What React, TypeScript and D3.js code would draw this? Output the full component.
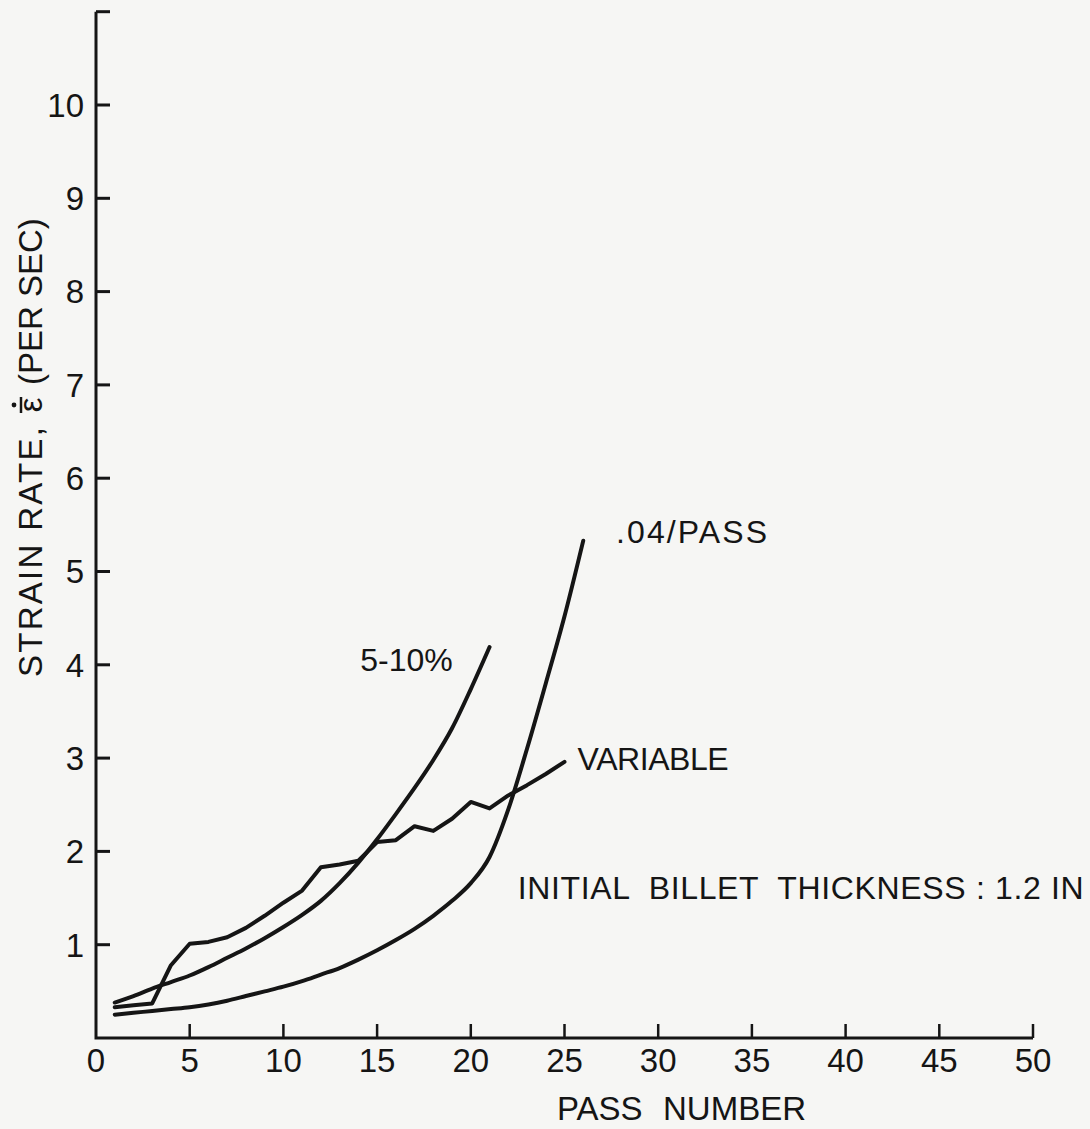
import * as d3 from "d3";

// x: pass number, y: strain rate (per sec)
const X_TICKS = [5, 10, 15, 20, 25, 30, 35, 40, 45, 50];
const Y_TICKS = [1, 2, 3, 4, 5, 6, 7, 8, 9, 10, 11];
const Y_LABELED = [1, 2, 3, 4, 5, 6, 7, 8, 9, 10];

// .04/PASS
const PASS_A = [1, 2, 3, 4, 5, 6, 7, 8, 9, 10, 11, 12, 13, 14, 15, 16, 17, 18, 19, 20, 21, 22, 23, 24, 25, 26];
const RATE_A = [0.25, 0.27, 0.29, 0.31, 0.33, 0.36, 0.4, 0.45, 0.5, 0.55, 0.61, 0.68, 0.75, 0.84, 0.94, 1.05, 1.17, 1.31, 1.47, 1.66, 1.94, 2.45, 3.1, 3.8, 4.52, 5.33];

// 5-10%
const PASS_B = [1, 2, 3, 4, 5, 6, 7, 8, 9, 10, 11, 12, 13, 14, 15, 16, 17, 18, 19, 20, 21];
const RATE_B = [0.38, 0.45, 0.53, 0.6, 0.67, 0.76, 0.86, 0.96, 1.07, 1.19, 1.32, 1.47, 1.66, 1.88, 2.13, 2.4, 2.68, 2.98, 3.32, 3.74, 4.19];

// VARIABLE
const PASS_C = [1, 2, 3, 4, 5, 6, 7, 8, 9, 10, 11, 12, 13, 14, 15, 16, 17, 18, 19, 20, 21, 22, 23, 24, 25];
const RATE_C = [0.33, 0.35, 0.37, 0.78, 1.01, 1.03, 1.08, 1.18, 1.31, 1.45, 1.58, 1.83, 1.86, 1.9, 2.1, 2.12, 2.27, 2.22, 2.35, 2.53, 2.46, 2.6, 2.71, 2.83, 2.96];

const W = 1090;
const H = 1129;
const INK = "#151515";
const FONT = "'Liberation Sans', Arial, sans-serif";

export default function App() {
  const x = d3.scaleLinear().domain([0, 50]).range([96, 1033]);
  const y = d3.scaleLinear().domain([0, 10]).range([1038, 105]);

  const smooth = d3
    .line<[number, number]>()
    .x((d) => x(d[0]))
    .y((d) => y(d[1]))
    .curve(d3.curveMonotoneX);
  const jagged = d3
    .line<[number, number]>()
    .x((d) => x(d[0]))
    .y((d) => y(d[1]));

  const a = PASS_A.map((p, i) => [p, RATE_A[i]] as [number, number]);
  const b = PASS_B.map((p, i) => [p, RATE_B[i]] as [number, number]);
  const c = PASS_C.map((p, i) => [p, RATE_C[i]] as [number, number]);

  const x0 = x(0);
  const y0 = y(0);
  const yTop = y(d3.max(Y_TICKS) as number);
  const tick = 14;

  // y title, drawn along the axis (rotated frame, origin at its start)
  const epsAt = 272;

  return (
    <svg
      width={W}
      height={H}
      style={{ position: "absolute", left: 0, top: 0, background: "#f6f6f4" }}
      fontFamily={FONT}
      fill={INK}
    >
      {/* axes */}
      <path
        d={`M${x0},${yTop}V${y0}H${x(50)}`}
        fill="none"
        stroke={INK}
        strokeWidth={3}
      />
      {Y_TICKS.map((t) => (
        <line key={"yt" + t} x1={x0} x2={x0 + tick} y1={y(t)} y2={y(t)} stroke={INK} strokeWidth={3} />
      ))}
      {X_TICKS.map((t) => (
        <line key={"xt" + t} x1={x(t)} x2={x(t)} y1={y0} y2={y0 - tick} stroke={INK} strokeWidth={2.5} />
      ))}

      {/* tick labels */}
      {Y_LABELED.map((t) => (
        <text key={"yl" + t} x={x0 - 12} y={y(t)} dy="0.36em" textAnchor="end" fontSize={33}>
          {t}
        </text>
      ))}
      {[0, ...X_TICKS].map((t) => (
        <text key={"xl" + t} x={x(t)} y={y0 + 34} textAnchor="middle" fontSize={33}>
          {t}
        </text>
      ))}

      {/* axis titles */}
      <text x={557} y={1120} fontSize={33} style={{ whiteSpace: "pre" }}>
        <tspan>PASS</tspan>
        <tspan x={663}>NUMBER</tspan>
      </text>
      <g transform={`translate(42,${y0 - 361}) rotate(-90)`} fontSize={33}>
        <text x={0} y={0} textLength={250} lengthAdjust="spacing">
          STRAIN RATE,
        </text>
        <text x={epsAt} y={0} textAnchor="middle">
          {"\u03B5"}
        </text>
        <line x1={epsAt - 8} x2={epsAt + 8} y1={-21} y2={-21} stroke={INK} strokeWidth={2.5} />
        <circle cx={epsAt} cy={-28} r={2.4} />
        <text x={epsAt + 20} y={0}>
          (PER SEC)
        </text>
      </g>

      {/* curves */}
      <path d={smooth(a) ?? ""} fill="none" stroke={INK} strokeWidth={4} strokeLinecap="round" />
      <path d={smooth(b) ?? ""} fill="none" stroke={INK} strokeWidth={4} strokeLinecap="round" />
      <path
        d={jagged(c) ?? ""}
        fill="none"
        stroke={INK}
        strokeWidth={4}
        strokeLinecap="round"
        strokeLinejoin="round"
      />

      {/* curve labels */}
      <text x={x(27.75)} y={y(5.31)} fontSize={32} textLength={151} lengthAdjust="spacing">
        .04/PASS
      </text>
      <text x={x(14.1)} y={y(3.93)} fontSize={32}>
        5-10%
      </text>
      <text x={x(25.7)} y={y(2.87)} fontSize={32} textLength={151} lengthAdjust="spacing">
        VARIABLE
      </text>
      <text
        x={x(22.5)}
        y={y(1.49)}
        fontSize={32}
        textLength={566}
        lengthAdjust="spacing"
        style={{ whiteSpace: "pre" }}
      >
        {"INITIAL  BILLET  THICKNESS : 1.2 IN"}
      </text>
    </svg>
  );
}
